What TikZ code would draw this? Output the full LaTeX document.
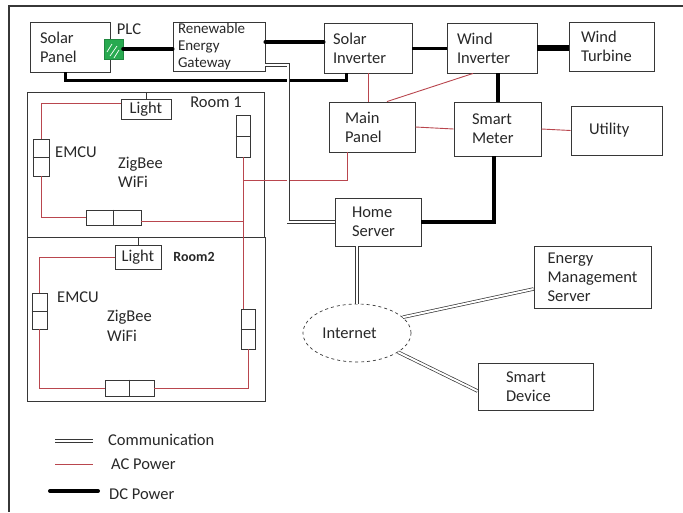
\documentclass[tikz,border=0pt]{standalone}
\usepackage{fontspec}
\setmainfont{Carlito}
\usetikzlibrary{shapes.geometric}
\definecolor{boxc}{RGB}{55,55,55}
\definecolor{acc}{RGB}{185,70,78}
\definecolor{txt}{RGB}{40,40,40}
\definecolor{plcg}{RGB}{40,170,80}
\begin{document}
\begin{tikzpicture}[x=1pt,y=-1pt,
 box/.style={draw=boxc, line width=0.9pt, rectangle, align=left, inner ysep=0pt, text=txt, font=\fontsize{16.5}{19}\selectfont},
 dev/.style={draw=boxc, line width=0.9pt, rectangle, inner sep=0pt, text=txt, font=\fontsize{16.5}{19}\selectfont},
 ac/.style={draw=acc, line width=0.9pt},
 dc/.style={draw=black, line width=3.5pt, line cap=round},
 comm/.style={draw=boxc, double=white, double distance=2pt, line width=0.7pt},
 lbl/.style={text=txt, font=\fontsize{16.5}{19.5}\selectfont, inner sep=0pt, align=left},
 room/.style={draw=boxc, line width=1pt, rectangle, inner sep=0pt}]
\useasboundingbox (0,0) rectangle (683,512);
\fill[white] (0,0) rectangle (683,512);
\draw[boxc, line width=1.8pt] (683,6) -- (9,6) -- (9,512);

% top row
\node[box, minimum width=80pt, minimum height=50pt, inner xsep=10pt, text width=60pt] (sp) at (70,47) {Solar\\Panel};
\node[draw=plcg!80!black, fill=plcg, minimum width=19pt, minimum height=20pt, inner sep=0pt] (plc) at (113.5,49) {};
\draw[white, line width=0.7pt] (107,52) -- (112,44) (110,56) -- (117,46) (114,58) -- (119,50);
\node[lbl] (plclbl) at (129,29) {PLC};
\node[box, font=\fontsize{15}{17}\selectfont, minimum width=92pt, minimum height=49pt, inner xsep=5pt, text width=82pt] (gw) at (219,46.5) {Renewable\\Energy\\Gateway};
\node[box, minimum width=88pt, minimum height=50pt, inner xsep=9pt, text width=70pt] (si) at (368,48) {Solar\\Inverter};
\node[box, minimum width=90pt, minimum height=50pt, inner xsep=10pt, text width=70pt] (wi) at (492,48) {Wind\\Inverter};
\node[box, minimum width=85pt, minimum height=49pt, inner xsep=12pt, text width=61pt] (wt) at (611.5,46.5) {Wind\\Turbine};
\node[box, minimum width=86pt, minimum height=50pt, inner xsep=16pt, text width=54pt] (mp) at (372,127) {Main\\Panel};
\node[box, minimum width=87pt, minimum height=54pt, inner xsep=18pt, text width=51pt] (sm) at (497.5,129) {Smart\\Meter};
\node[box, minimum width=91pt, minimum height=49pt, inner xsep=18pt, text width=55pt] (ut) at (616.5,130.5) {Utility};
\node[box, minimum width=86pt, minimum height=48pt, inner xsep=17pt, text width=52pt] (hs) at (378,222) {Home\\Server};
\node[box, minimum width=117pt, minimum height=62pt, inner xsep=5pt] (ems) at (592.5,277) {Energy\\Management\\Server};
\node[box, minimum width=115pt, minimum height=47pt, inner xsep=28pt, text width=59pt] (sd) at (535.5,386.5) {Smart\\Device};
\node[ellipse, draw=boxc, dashed, line width=0.7pt, minimum width=108pt, minimum height=58pt, inner sep=0pt, text=txt, font=\fontsize{16.5}{19}\selectfont] (inet) at (357,333) {\hspace*{-15pt}Internet};

% rooms
\node[room, minimum width=237pt, minimum height=145pt] (r1) at (145.5,164.5) {};
\node[room, minimum width=238pt, minimum height=164pt] (r2) at (146,319) {};

\node[dev, minimum width=50pt, minimum height=20pt] (l1) at (146,109) {Light};
\node[dev, minimum width=16pt, minimum height=37pt] (e1) at (41,157.5) {};
\node[dev, minimum width=55pt, minimum height=15pt] (b1) at (113.5,217.5) {};
\node[dev, minimum width=14pt, minimum height=42pt] (d1) at (243,136) {};
\node[dev, minimum width=46pt, minimum height=24pt] (l2) at (138,257) {Light};
\node[dev, minimum width=15pt, minimum height=36pt] (e2) at (39.5,311) {};
\node[dev, minimum width=49pt, minimum height=16pt] (b2) at (129.5,388) {};
\node[dev, minimum width=14pt, minimum height=40pt] (d2) at (248,329) {};
\draw[boxc, line width=0.9pt] (e1.west) -- (e1.east) (d1.west) -- (d1.east) (e2.west) -- (e2.east) (d2.west) -- (d2.east) (b1.north) -- (b1.south) (b2.north) -- (b2.south);

\node[lbl] (rm1) at (216,102) {Room 1};
\node[lbl, font=\bfseries\fontsize{14}{17}\selectfont] (rm2) at (194,257) {Room2};
\node[lbl] (em1) at (76,152) {EMCU};
\node[lbl] (em2) at (78,297) {EMCU};
\node[lbl, anchor=west] (z1) at (118,172.5) {ZigBee\\WiFi};
\node[lbl, anchor=west] (z2) at (107,326) {ZigBee\\WiFi};

% DC power
\draw[dc, line width=4pt] (plc.east) -- (plc.east -| gw.west);
\draw[dc, line width=4pt] ([yshift=4.5pt]gw.east) -- ([yshift=4.5pt]gw.east -| si.west);
\draw[dc, line width=3pt, line cap=butt] ([xshift=-5pt]sp.south) -- ++(0,8) -| ([xshift=-22pt]si.south);
\draw[dc, line width=3pt, line cap=butt] (si.east) -- (si.east -| wi.west);
\draw[dc, line width=6pt, line cap=butt] (wi.east) -- (wi.east -| wt.west);
\draw[dc, line width=4pt, line cap=butt] (sm.north |- wi.south) -- (sm.north);
\draw[dc, line width=4pt, line cap=butt] ([xshift=-4pt]sm.south) |- (hs.east);

% AC power
\draw[ac] (si.south) -- (si.south |- mp.north);
\draw[ac] ([xshift=15pt]mp.north) -- ([xshift=-19pt]wi.south);
\draw[ac] (mp.east) -- (sm.west);
\draw[ac] (sm.east) -- (ut.west);
\draw[ac] ([xshift=-25pt]mp.south) |- (d1.south |- 0,180);
\draw[ac] (d1.south) -- (d1.south |- d2.north);
\draw[ac] ([yshift=-4pt]b1.east) -- (d1.south |- 0,221.5);
\draw[ac] ([yshift=-5pt]l1.north west) -| (e1.north);
\draw[ac] (e1.south) |- (b1.west);
\draw[ac] (l2.west) -| (e2.north);
\draw[ac] (e2.south) |- (b2.west);
\draw[ac] (b2.east) -| (d2.south);
\draw[boxc, line width=0.8pt] (l1.north) -- (l1.north |- r1.north);
\draw[boxc, line width=0.8pt] (l2.north) -- (l2.north |- r2.north);

% communication
\draw[comm] ([yshift=-18.5pt]gw.east) -- ++(23,0) |- (hs.west);
\draw[comm] (inet.north |- hs.south) -- (inet.north);
\draw[comm] (inet.19) -- ([yshift=-12pt]ems.west);
\draw[comm] (inet.-25) -- ([yshift=-4.5pt]sd.west);

% legend
\coordinate (lc1) at (55,441); \coordinate (lc2) at (93,441);
\coordinate (la1) at (55,464); \coordinate (la2) at (93,464);
\coordinate (ld1) at (50,491); \coordinate (ld2) at (98,491);
\draw[comm] (lc1) -- (lc2);
\draw[ac] (la1) -- (la2);
\draw[dc, line width=4pt] (ld1) -- (ld2);
\node[lbl, anchor=west] (lgc) at (108,440) {Communication};
\node[lbl, anchor=west] (lga) at (111,464) {AC Power};
\node[lbl, anchor=west] (lgd) at (109,494) {DC Power};
\end{tikzpicture}
\end{document}
